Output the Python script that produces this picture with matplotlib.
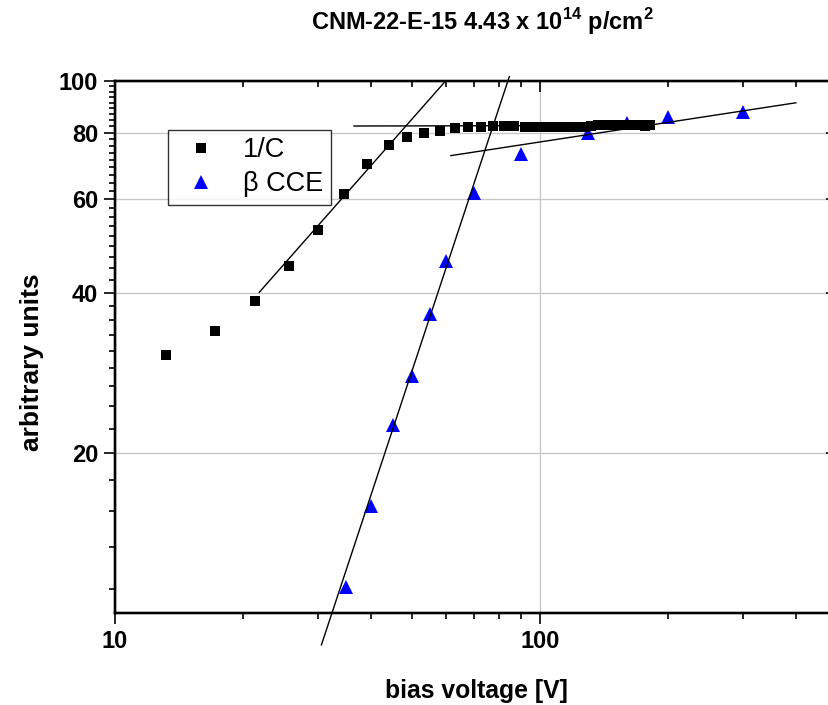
import matplotlib
matplotlib.use('Agg')
import matplotlib.pyplot as plt
import numpy as np

plt.rcParams['font.family'] = ['Liberation Sans', 'DejaVu Sans']
plt.rcParams['mathtext.fontset'] = 'custom'
plt.rcParams['mathtext.rm'] = 'Liberation Sans:bold'
plt.rcParams['mathtext.bf'] = 'Liberation Sans:bold'

# 1/C measurement
c_volts = [13.2, 17.2, 21.4, 25.7, 30.1, 34.6, 39.1, 44.1, 48.7, 53.4, 58.3,
           63.1, 67.8, 72.6, 77.4, 82.3, 87.0, 92, 97, 102, 107, 112, 117,
           122, 127, 132, 137, 142, 147, 152, 157, 162, 167, 172, 177, 182]
c_vals = [30.5, 33.9, 38.6, 44.9, 52.5, 61.2, 69.8, 75.9, 78.6, 80.0, 80.7,
          81.6, 82.0, 82.0, 82.4, 82.4, 82.4, 82.1, 82.0, 81.9, 82.0, 82.0,
          81.9, 82.0, 82.1, 82.4, 82.5, 82.5, 82.6, 82.5, 82.5, 82.6, 82.5,
          82.5, 82.4, 82.5]

# beta CCE measurement
cce_volts = [35, 40, 45, 50, 55, 60, 70, 90, 130, 160, 200, 300]
cce_vals = [11.2, 15.9, 22.6, 27.9, 36.4, 45.9, 61.6, 72.9, 80.0, 83.5, 85.5, 87.5]

# fitted straight lines (end points)
fit_c_rise_x, fit_c_rise_y = [21.85, 59.5], [40.07, 99.3]
fit_c_flat_x, fit_c_flat_y = [36.5, 183], [82.3, 82.5]
fit_cce_rise_x, fit_cce_rise_y = [30.6, 84.7], [8.71, 101.9]
fit_cce_flat_x, fit_cce_flat_y = [61.7, 400], [72.4, 91.0]

x_major = [10, 100]
x_minor = [20, 30, 40, 50, 60, 70, 80, 90, 200, 300, 400]
y_major = [20, 40, 60, 80, 100]
step = 20 / 9
y_minor = [20 - step * k for k in range(1, 5)]
for base in [20, 40, 60, 80]:
    y_minor += [base + step * k for k in range(1, 9)]

W, H = 829, 705
fig = plt.figure(figsize=(W / 100, H / 100), dpi=100)
ax = fig.add_axes([115 / W, 1 - 613 / H, (837 - 115) / W, (613 - 81) / H])

ax.set_xscale('log')
ax.set_yscale('log')
ax.set_xlim(10, 500)
ax.set_ylim(10, 100)

ax.set_xticks(x_major)
ax.set_xticks(x_minor, minor=True)
ax.set_xticklabels(['10', '100'])
ax.set_yticks(y_major)
ax.set_yticks(y_minor, minor=True)
ax.set_yticklabels([str(v) for v in y_major])
ax.xaxis.set_minor_formatter(matplotlib.ticker.NullFormatter())
ax.yaxis.set_minor_formatter(matplotlib.ticker.NullFormatter())
ax.tick_params(which='major', direction='out', length=8, width=1.2, labelsize=17, pad=4)
ax.tick_params(which='minor', direction='out', length=4.5, width=1.2)
for lab in ax.get_xticklabels() + ax.get_yticklabels():
    lab.set_fontweight('bold')

ax.grid(True, which='major', color='#c8c8c8', linewidth=1.0)
ax.set_axisbelow(True)
for sp in ax.spines.values():
    sp.set_linewidth(1.6)

# top and right ticks pointing inward
ax_top = ax.twiny()
ax_top.set_xscale('log')
ax_top.set_xlim(ax.get_xlim())
ax_top.set_xticks(x_major)
ax_top.set_xticks(x_minor, minor=True)
ax_top.tick_params(which='both', direction='in', labeltop=False, width=1.2)
ax_top.tick_params(which='major', length=8)
ax_top.tick_params(which='minor', length=4.5)
ax_right = ax.twinx()
ax_right.set_yscale('log')
ax_right.set_ylim(ax.get_ylim())
ax_right.set_yticks(y_major)
ax_right.set_yticks(y_minor, minor=True)
ax_right.tick_params(which='both', direction='in', labelright=False, width=1.2)
ax_right.tick_params(which='major', length=8)
ax_right.tick_params(which='minor', length=4.5)
for a in (ax_top, ax_right):
    a.xaxis.set_minor_formatter(matplotlib.ticker.NullFormatter())
    a.yaxis.set_minor_formatter(matplotlib.ticker.NullFormatter())
    for sp in a.spines.values():
        sp.set_linewidth(1.6)

ax.plot(cce_volts, cce_vals, linestyle='none', marker='^', markersize=9.5,
        color='#0000ff', markeredgewidth=0, label=r'$\beta$ CCE', zorder=3)
ax.plot(c_volts, c_vals, linestyle='none', marker='s', markersize=7.2,
        color='black', markeredgewidth=0, label='1/C', zorder=4)

for fx, fy in [(fit_c_rise_x, fit_c_rise_y), (fit_c_flat_x, fit_c_flat_y),
               (fit_cce_rise_x, fit_cce_rise_y), (fit_cce_flat_x, fit_cce_flat_y)]:
    ax.plot(fx, fy, color='black', linewidth=1.0, zorder=5, clip_on=False)

handles, labels = ax.get_legend_handles_labels()
leg = ax.legend(handles[::-1], ['1/C', 'β CCE'], loc='upper left',
                bbox_to_anchor=(0.073, 0.9085), borderaxespad=0,
                fontsize=19.5, frameon=True, fancybox=False, edgecolor='black',
                handlelength=1.9, handletextpad=0.6, borderpad=0.28,
                labelspacing=0.3, numpoints=1)
leg.get_frame().set_linewidth(1.0)
leg.set_zorder(6)

fig.text(482 / W, 1 - 30 / H, r'CNM-22-E-15 4.43 x 10$^{14}$ p/cm$^{2}$',
         ha='center', va='baseline', fontsize=17, fontweight='bold')
fig.text(476 / W, 1 - 698 / H, 'bias voltage [V]', ha='center', va='baseline',
         fontsize=17.8, fontweight='bold')
fig.text(32 / W, 1 - 362 / H, 'arbitrary units', ha='center', va='center',
         rotation=90, fontsize=19, fontweight='bold')

fig.savefig('out.png', dpi=100)
